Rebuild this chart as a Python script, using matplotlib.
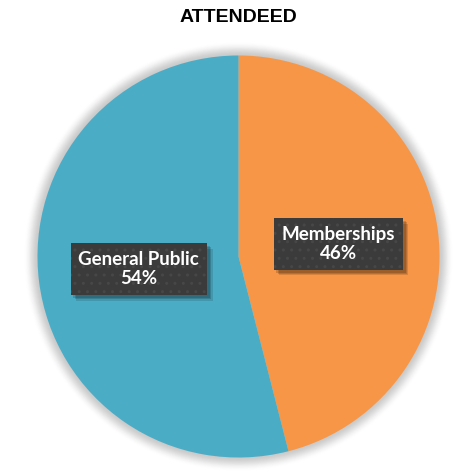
import numpy as np
import matplotlib
matplotlib.use("Agg")
import matplotlib.pyplot as plt
import matplotlib.patheffects as pe
from matplotlib.patches import Circle

# Attendance split
categories = ["Memberships", "General Public"]
shares = [46, 54]
colors = ["#F79646", "#4BACC6"]
title = "ATTENDEED"

W, H, DPI = 454, 474, 100
fig = plt.figure(figsize=(W / DPI, H / DPI), dpi=DPI)
fig.patch.set_facecolor("white")

# pie geometry in pixels
cx, cy, r = 238.5, 256.5, 201.0
span = 1.2
ax = fig.add_axes([(cx - span * r) / W, (H - cy - span * r) / H,
                   2 * span * r / W, 2 * span * r / H])

wedges, _ = ax.pie(shares, colors=colors, startangle=90, counterclock=False,
                   radius=1.0, wedgeprops=dict(linewidth=0))
for w in wedges:
    w.set_zorder(2)

ax.set_xlim(-span, span)
ax.set_ylim(-span, span)
ax.set_aspect("auto")
ax.axis("off")

# soft glow ring around the pie
for rr in np.linspace(1.07, 1.0, 16):
    d = abs(rr - 1.025) / 0.045
    a = max(0.0, 1 - d) * 0.06
    ax.add_patch(Circle((0, 0), rr, facecolor="#8a8a8a", edgecolor="none",
                        alpha=a, zorder=0))

label_kw = dict(ha="center", va="center", fontsize=13.5, fontweight="bold",
                family="Lato", linespacing=1.15)
for w, name, val in zip(wedges, categories, shares):
    mid = np.deg2rad((w.theta1 + w.theta2) / 2)
    x, y = 0.5 * np.cos(mid), 0.5 * np.sin(mid)
    s = f"{name}\n{val}%"
    # drop shadow behind the label box
    sh = ax.text(x, y, s, color=(0, 0, 0, 0), zorder=4,
                 bbox=dict(boxstyle="square,pad=0.42", facecolor="#3b3b3b",
                           linewidth=0), **label_kw)
    sh.get_bbox_patch().set_path_effects([
        pe.SimplePatchShadow(offset=(4, -4), shadow_rgbFace="#000000", alpha=0.12),
        pe.SimplePatchShadow(offset=(3, -3), shadow_rgbFace="#000000", alpha=0.15),
        pe.SimplePatchShadow(offset=(2, -2), shadow_rgbFace="#000000", alpha=0.15),
        pe.Normal()])
    # textured label box with the text
    ax.text(x, y, s, color="white", zorder=5,
            bbox=dict(boxstyle="square,pad=0.42", facecolor="#3b3b3b",
                      edgecolor="#474747", linewidth=0, hatch=".."),
            **label_kw)

fig.text(cx / W, 1 - 18 / H, title, ha="center", va="center",
         fontsize=14, fontweight="bold", family="Liberation Sans", color="black")

fig.savefig("out.png", dpi=DPI, facecolor="white")
